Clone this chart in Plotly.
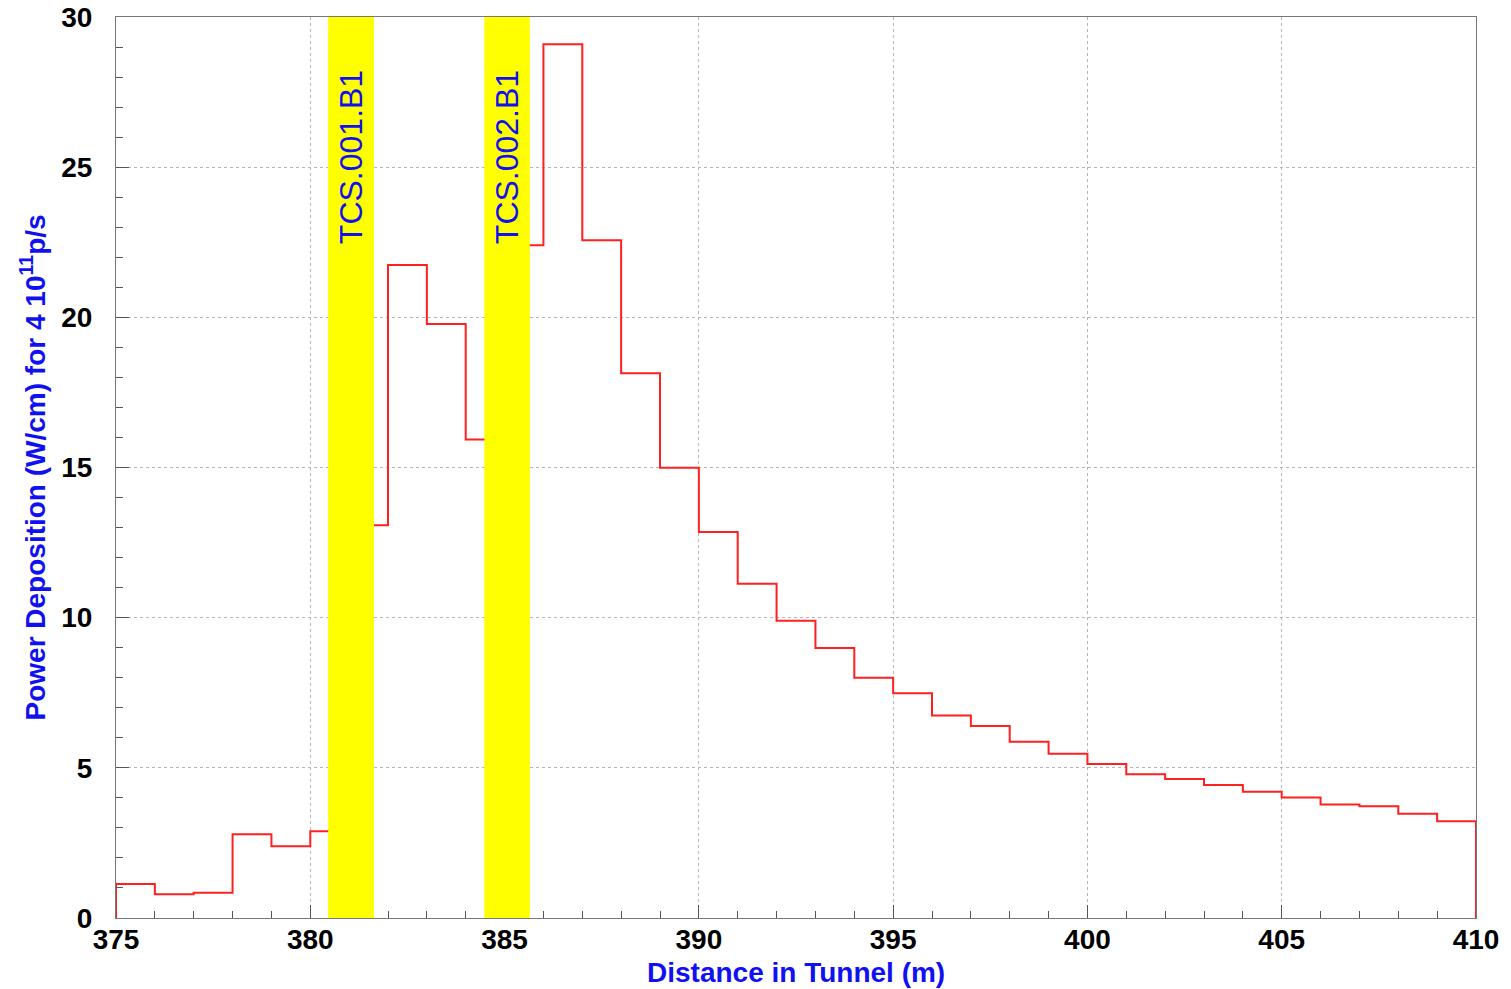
import plotly.graph_objects as go

# Power deposition per 1 m bin along the tunnel (W/cm)
bin_edges = list(range(375, 411))
power = [1.13, 0.79, 0.84, 2.79, 2.39, 2.89, 13.08, 21.74, 19.78, 15.93,
         22.4, 29.09, 22.57, 18.14, 14.99, 12.85, 11.13, 9.9, 8.99, 8.0,
         7.48, 6.74, 6.39, 5.87, 5.47, 5.13, 4.79, 4.63, 4.43, 4.2,
         4.01, 3.78, 3.72, 3.47, 3.22]

# Collimator positions (start, end in m) and names
collimators = ["TCS.001.B1", "TCS.002.B1"]
coll_start = [380.46, 384.48]
coll_end = [381.64, 385.65]

x_ticks = [375, 380, 385, 390, 395, 400, 405, 410]
y_ticks = [0, 5, 10, 15, 20, 25, 30]

# step outline of the histogram, closed to zero at both ends
xs = [bin_edges[0]]
ys = [0]
for i, v in enumerate(power):
    xs += [bin_edges[i], bin_edges[i + 1]]
    ys += [v, v]
xs.append(bin_edges[-1])
ys.append(0)

BLUE = "#1010f0"

fig = go.Figure()
fig.add_trace(go.Scatter(x=xs, y=ys, mode="lines",
                         line=dict(color="#ff2020", width=2),
                         hoverinfo="skip", showlegend=False))

for name, a, b in zip(collimators, coll_start, coll_end):
    fig.add_shape(type="rect", xref="x", yref="y", x0=a, x1=b, y0=0, y1=30,
                  fillcolor="#ffff00", line=dict(width=0), layer="above")
    fig.add_annotation(x=(a + b) / 2, y=28.3, xref="x", yref="y",
                       text=name, textangle=-90, showarrow=False,
                       xanchor="center", yanchor="top",
                       font=dict(family="Liberation Sans", size=32, color=BLUE))

axis_font = dict(family="Liberation Sans", size=28, color="black", weight="bold")
title_font = dict(family="Liberation Sans", size=28, color=BLUE, weight="bold")

# axis titles
fig.add_annotation(xref="paper", yref="paper", x=0.5, y=0, yshift=-54,
                   xanchor="center", yanchor="middle", showarrow=False,
                   text="Distance in Tunnel (m)", font=title_font)
fig.add_annotation(xref="paper", yref="paper", x=0, y=0.5, xshift=-83,
                   xanchor="center", yanchor="middle", showarrow=False, textangle=-90,
                   text="Power Deposition (W/cm) for 4 10<sup>11</sup>p/s", font=title_font)

common = dict(ticks="inside", ticklen=13, tickcolor="#555555", tickfont=axis_font,
              showline=True, linecolor="#777777", linewidth=1, mirror=True,
              showgrid=True, gridcolor="#b5b5b5", griddash="dot", gridwidth=1,
              zeroline=False, automargin=False,
              minor=dict(dtick=1, ticks="inside", ticklen=7, tickcolor="#555555",
                         showgrid=False))

fig.update_xaxes(range=[375, 410], tickvals=x_ticks, ticklabelstandoff=-4, **common)
fig.update_yaxes(range=[0, 30], tickvals=y_ticks, ticklabelstandoff=17, **common)

fig.update_layout(width=1511, height=989,
                  margin=dict(l=116, r=35, t=17, b=71),
                  paper_bgcolor="white", plot_bgcolor="white")

fig.write_html("out.html")
